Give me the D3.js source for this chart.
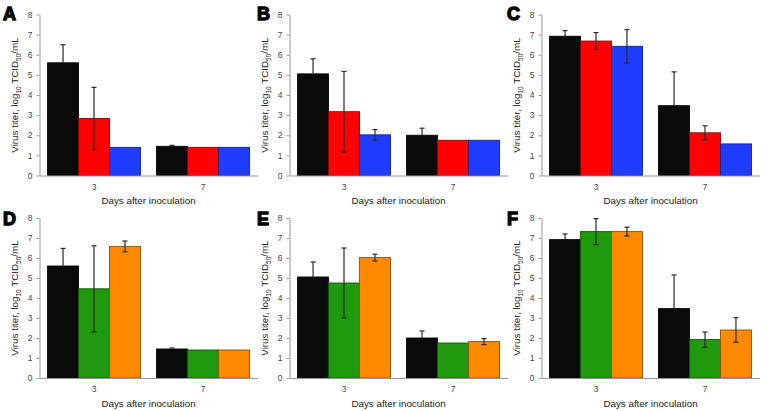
<!DOCTYPE html>
<html><head><meta charset="utf-8">
<script src="https://cdn.jsdelivr.net/npm/d3@7"></script>
<style>
html,body{margin:0;padding:0;background:#fff;}
svg{display:block;font-family:"Liberation Sans",Arial,sans-serif;}
</style></head>
<body><svg id="chart" width="768" height="411"></svg>
<script>
// ---- data ----
const days = ["3", "7"];
const yTicks = [0, 1, 2, 3, 4, 5, 6, 7, 8];
const panelLetters = ["A", "B", "C", "D", "E", "F"];
const colorsTop = ["#0a0a0a", "#ff0000", "#1f3cff"];
const colorsBottom = ["#0a0a0a", "#1f9a0c", "#ff8a00"];

// values[dayIndex][seriesIndex], errors are half-lengths (0 = none)
const valuesA = [[5.6, 2.83, 1.4], [1.45, 1.4, 1.4]];
const errorsA = [[0.9, 1.55, 0], [0.05, 0, 0]];
const valuesB = [[5.05, 3.17, 2.02], [2.0, 1.75, 1.75]];
const errorsB = [[0.75, 2.0, 0.26], [0.35, 0, 0]];
const valuesC = [[6.92, 6.68, 6.42], [3.47, 2.12, 1.57]];
const errorsC = [[0.28, 0.42, 0.83], [1.68, 0.35, 0]];
const valuesD = [[5.6, 4.46, 6.58], [1.45, 1.4, 1.4]];
const errorsD = [[0.88, 2.15, 0.27], [0.05, 0, 0]];
const valuesE = [[5.05, 4.75, 6.02], [2.0, 1.75, 1.82]];
const errorsE = [[0.75, 1.75, 0.17], [0.35, 0, 0.15]];
const valuesF = [[6.92, 7.32, 7.32], [3.47, 1.92, 2.4]];
const errorsF = [[0.28, 0.65, 0.22], [1.68, 0.38, 0.62]];

const allValues = [valuesA, valuesB, valuesC, valuesD, valuesE, valuesF];
const allErrors = [errorsA, errorsB, errorsC, errorsD, errorsE, errorsF];

// ---- layout ----
const svg = d3.select("#chart");
const colX = [39.5, 289.5, 541.5];
const plotW = 218;
const rows = [{top: 14.5, bottom: 175.5}, {top: 218, bottom: 378}];
const letterPos = [[3, 20], [257, 20], [507, 20], [3, 225], [257, 225], [507, 225]];

panelLetters.forEach((letter, p) => {
  const row = rows[Math.floor(p / 3)];
  const x0 = colX[p % 3];
  const colors = p < 3 ? colorsTop : colorsBottom;
  const vals = allValues[p], errs = allErrors[p];

  const x = d3.scaleBand().domain(days).range([x0, x0 + plotW]).paddingInner(0.148).paddingOuter(0.074);
  const xs = d3.scaleBand().domain([0, 1, 2]).range([0, x.bandwidth()]).padding(0);
  const y = d3.scaleLinear().domain([0, 8]).range([row.bottom, row.top]);

  const g = svg.append("g");

  // bars
  days.forEach((day, di) => {
    vals[di].forEach((v, si) => {
      g.append("rect")
        .attr("x", x(day) + xs(si))
        .attr("y", y(v))
        .attr("width", xs.bandwidth())
        .attr("height", y(0) - y(v))
        .attr("fill", colors[si])
        .attr("stroke", d3.color(colors[si]).darker(1.6))
        .attr("stroke-width", 0.9);
    });
  });

  // error bars
  days.forEach((day, di) => {
    errs[di].forEach((e, si) => {
      if (!e) return;
      const v = vals[di][si];
      const cx = x(day) + xs(si) + xs.bandwidth() / 2;
      const col = "#2a2a2a";
      // part inside the bar takes the bar's colour when the bar is black
      const inner = si === 0 ? colors[0] : col;
      const seg = (a, b, c) => g.append("line").attr("x1", cx).attr("x2", cx)
        .attr("y1", y(a)).attr("y2", y(b)).attr("stroke", c).attr("stroke-width", 1.2);
      const cap = (t, c) => g.append("line").attr("x1", cx - 2.5).attr("x2", cx + 2.5)
        .attr("y1", y(t)).attr("y2", y(t)).attr("stroke", c).attr("stroke-width", 1.2);
      seg(v + e, v, col);
      cap(v + e, col);
      if (si !== 0) {
        seg(v, Math.max(0, v - e), inner);
        cap(v - e, inner);
      }
    });
  });

  // y axis
  const ya = g.append("g").attr("transform", `translate(${x0},0)`)
    .call(d3.axisLeft(y).tickValues(yTicks).tickSize(3).tickPadding(4).tickSizeOuter(0));
  ya.select(".domain").attr("stroke", "#999");
  ya.selectAll(".tick line").attr("stroke", "#999");
  ya.selectAll(".tick text").attr("fill", "#444").style("font-size", "8.5px").style("font-family", "Liberation Sans, Arial, sans-serif");

  // x axis
  const xa = g.append("g").attr("transform", `translate(0,${row.bottom})`)
    .call(d3.axisBottom(x).tickSize(0).tickPadding(8).tickSizeOuter(0));
  xa.select(".domain").attr("stroke", "#999");
  xa.selectAll(".tick text").attr("fill", "#444").style("font-size", "8.5px").style("font-family", "Liberation Sans, Arial, sans-serif");

  // x title
  g.append("text")
    .attr("x", x0 + plotW / 2).attr("y", row.bottom + 28.5)
    .attr("text-anchor", "middle").attr("fill", "#222")
    .style("font-size", "9.8px")
    .text("Days after inoculation");

  // y title
  const yt = g.append("text")
    .attr("transform", `translate(${x0 - 22},${(row.top + row.bottom) / 2}) rotate(-90)`)
    .attr("text-anchor", "middle").attr("fill", "#222")
    .style("font-size", "9.8px");
  yt.append("tspan").text("Virus titer, log");
  yt.append("tspan").attr("dy", 3).style("font-size", "6.5px").text("10");
  yt.append("tspan").attr("dy", -3).text(" TCID");
  yt.append("tspan").attr("dy", 3).style("font-size", "6.5px").text("50");
  yt.append("tspan").attr("dy", -3).text("/mL");

  // panel letter
  svg.append("text")
    .attr("x", letterPos[p][0]).attr("y", letterPos[p][1])
    .attr("fill", "#000").attr("stroke", "#000").attr("stroke-width", 1.3)
    .style("font-size", "18px").style("font-weight", "bold")
    .style("font-family", "Liberation Sans, Arial, sans-serif")
    .text(letter);
});
</script>
</body></html>
